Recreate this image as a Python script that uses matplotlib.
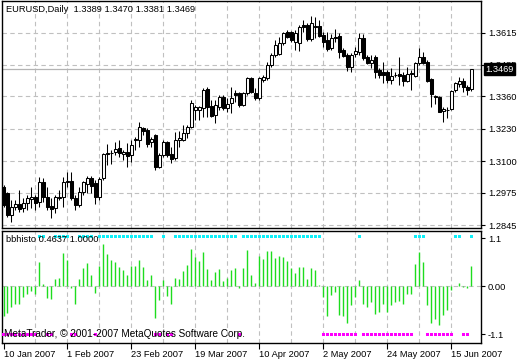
import numpy as np
import matplotlib
matplotlib.use("Agg")
import matplotlib.pyplot as plt
from matplotlib import font_manager as fm

# ---------------- data ----------------
opens = [1.2997,1.2973,1.2885,1.2917,1.2929,1.2913,1.2933,1.2949,1.2957,1.2937,
         1.3017,1.2957,1.2921,1.2913,1.2953,1.2957,1.3017,1.3021,1.2953,1.2925,
         1.2977,1.3009,1.3033,1.3013,1.2957,1.3033,1.3133,1.3133,1.3137,1.3153,
         1.3129,1.3137,1.3125,1.3187,1.3185,1.3233,1.3225,1.3177,1.3205,1.3077,
         1.3125,1.3177,1.3129,1.3113,1.3185,1.3185,1.3213,1.3237,1.3305,1.3305,
         1.3313,1.3389,1.3321,1.3285,1.3317,1.3357,1.3313,1.3333,1.3373,1.3373,
         1.3325,1.3373,1.3433,1.3373,1.3353,1.3425,1.3433,1.3485,1.3525,1.3529,
         1.3573,1.3617,1.3617,1.3577,1.3573,1.3645,1.3645,1.3589,1.3641,1.3641,
         1.3605,1.3585,1.3553,1.3597,1.3601,1.3545,1.3525,1.3477,1.3529,1.3537,
         1.3593,1.3517,1.3493,1.3517,1.3465,1.3457,1.3457,1.3425,1.3445,1.3449,
         1.3445,1.3421,1.3453,1.3441,1.3493,1.3517,1.3497,1.3429,1.3361,1.3357,
         1.3301,1.3305,1.3309,1.3385,1.3409,1.3421,1.3397,1.3389]
highs = [1.3005,1.2977,1.2945,1.2945,1.2985,1.2953,1.2965,1.2997,1.2965,1.3037,
         1.3033,1.2997,1.2953,1.2965,1.2985,1.3037,1.3057,1.3057,1.2965,1.2997,
         1.3021,1.3041,1.3041,1.3025,1.3037,1.3133,1.3169,1.3145,1.3177,1.3185,
         1.3145,1.3173,1.3185,1.3197,1.3257,1.3237,1.3233,1.3197,1.3209,1.3133,
         1.3185,1.3181,1.3157,1.3217,1.3221,1.3245,1.3245,1.3345,1.3325,1.3321,
         1.3393,1.3397,1.3345,1.3345,1.3365,1.3365,1.3353,1.3397,1.3385,1.3377,
         1.3377,1.3437,1.3437,1.3393,1.3437,1.3445,1.3497,1.3533,1.3585,1.3597,
         1.3617,1.3625,1.3621,1.3625,1.3645,1.3665,1.3653,1.3681,1.3677,1.3665,
         1.3617,1.3617,1.3609,1.3629,1.3613,1.3553,1.3533,1.3533,1.3557,1.3613,
         1.3609,1.3525,1.3525,1.3525,1.3473,1.3497,1.3465,1.3473,1.3457,1.3517,
         1.3457,1.3477,1.3465,1.3497,1.3553,1.3537,1.3505,1.3433,1.3365,1.3361,
         1.3317,1.3317,1.3385,1.3417,1.3437,1.3433,1.3405,1.3470]
lows = [1.2917,1.2877,1.2857,1.2905,1.2897,1.2897,1.2905,1.2913,1.2905,1.2917,
        1.2937,1.2905,1.2873,1.2893,1.2945,1.2917,1.2997,1.2945,1.2905,1.2917,
        1.2965,1.2973,1.2973,1.2929,1.2945,1.3025,1.3085,1.3089,1.3125,1.3117,
        1.3105,1.3077,1.3097,1.3145,1.3157,1.3205,1.3157,1.3157,1.3065,1.3073,
        1.3117,1.3117,1.3093,1.3105,1.3157,1.3181,1.3193,1.3233,1.3265,1.3265,
        1.3277,1.3277,1.3277,1.3253,1.3305,1.3305,1.3297,1.3293,1.3337,1.3317,
        1.3321,1.3365,1.3373,1.3345,1.3345,1.3417,1.3425,1.3477,1.3517,1.3525,
        1.3565,1.3593,1.3577,1.3545,1.3541,1.3617,1.3581,1.3581,1.3593,1.3597,
        1.3557,1.3541,1.3545,1.3577,1.3513,1.3517,1.3461,1.3457,1.3517,1.3525,
        1.3505,1.3489,1.3473,1.3433,1.3433,1.3413,1.3413,1.3409,1.3437,1.3405,
        1.3401,1.3417,1.3385,1.3437,1.3485,1.3489,1.3417,1.3317,1.3329,1.3297,
        1.3257,1.3273,1.3305,1.3377,1.3397,1.3377,1.3365,1.3381]
closes = [1.2925,1.2885,1.2917,1.2929,1.2909,1.2933,1.2953,1.2957,1.2933,1.3017,
          1.2957,1.2917,1.2909,1.2957,1.2957,1.3017,1.3021,1.2953,1.2925,1.2977,
          1.3017,1.3033,1.3001,1.2957,1.3029,1.3129,1.3131,1.3135,1.3149,1.3133,
          1.3137,1.3121,1.3165,1.3189,1.3237,1.3221,1.3169,1.3189,1.3077,1.3125,
          1.3177,1.3125,1.3109,1.3185,1.3193,1.3213,1.3237,1.3333,1.3317,1.3317,
          1.3385,1.3317,1.3281,1.3325,1.3357,1.3313,1.3329,1.3353,1.3365,1.3325,
          1.3373,1.3433,1.3377,1.3353,1.3433,1.3437,1.3485,1.3525,1.3565,1.3573,
          1.3613,1.3597,1.3585,1.3613,1.3637,1.3637,1.3589,1.3653,1.3637,1.3601,
          1.3577,1.3549,1.3593,1.3593,1.3537,1.3521,1.3477,1.3525,1.3541,1.3593,
          1.3513,1.3493,1.3505,1.3457,1.3445,1.3445,1.3425,1.3441,1.3444,1.3441,
          1.3421,1.3449,1.3449,1.3493,1.3517,1.3493,1.3421,1.3369,1.3357,1.3297,
          1.3309,1.3304,1.3381,1.3413,1.3421,1.3397,1.3385,1.3469]
hist = [-0.69,-0.62,-0.48,-0.40,-0.40,-0.25,-0.17,-0.11,-0.17,0.56,
        0.05,-0.26,-0.30,0.16,0.20,0.76,0.60,-0.05,-0.40,0.17,
        0.42,0.53,0.26,-0.15,0.46,0.97,0.74,0.60,0.56,0.45,
        0.38,0.26,0.46,0.46,0.60,0.45,0.14,0.26,-0.73,-0.31,
        0.14,-0.23,-0.40,0.19,0.17,0.36,0.48,0.86,0.67,0.58,
        0.78,0.39,0.14,0.33,0.40,0.13,0.20,0.37,0.41,-0.05,
        0.41,0.84,0.26,0.07,0.69,0.63,0.80,0.80,0.65,0.70,
        0.67,0.57,0.41,0.30,0.45,0.44,0.17,0.43,0.37,0.03,
        -0.24,-0.69,-0.20,-0.12,-0.65,-0.67,-0.85,-0.42,-0.24,0.15,
        -0.40,-0.48,-0.36,-0.63,-0.58,-0.40,-0.59,-0.43,-0.35,-0.34,
        -0.40,-0.17,-0.17,0.51,0.79,0.55,-0.42,-0.83,-0.75,-0.88,
        -0.65,-0.55,-0.08,0.01,0.07,-0.01,-0.03,0.4637]
up_level = 1.15
down_level = -1.1
date_labels = ["10 Jan 2007", "1 Feb 2007", "23 Feb 2007", "19 Mar 2007",
               "10 Apr 2007", "2 May 2007", "24 May 2007", "15 Jun 2007"]
date_step = 16
price_ticks = [1.2845, 1.2975, 1.3100, 1.3230, 1.3360, 1.3485, 1.3615]
ind_ticks = [1.1, 0.0, -1.1]
ind_tick_labels = ["1.1", "0.00", "-1.1"]
symbol = "EURUSD,Daily"
ind_name = "bbhisto"
ind_second = 1.0000
copyright_text = "MetaTrader, \u00a9 2001-2007 MetaQuotes Software Corp."

# ---------------- fonts ----------------
_names = {f.name for f in fm.fontManager.ttflist}
if "Liberation Sans Narrow" in _names:
    FONT, FS = "Liberation Sans Narrow", 7.6
else:
    FONT, FS = "Liberation Sans", 6.7
plt.rcParams["font.family"] = [FONT, "DejaVu Sans"]

W, H = 520, 360
fig = plt.figure(figsize=(W / 100, H / 100), dpi=100)
fig.patch.set_facecolor("white")

def px_axes(x0, y0, x1, y1):
    return fig.add_axes([x0 / W, 1 - y1 / H, (x1 - x0) / W, (y1 - y0) / H])

ax1 = px_axes(2.0, 1, 481.0, 228)
ax2 = px_axes(2.0, 231, 481.0, 342.5)

n = len(closes)
x = np.arange(n)
o = np.array(opens); h = np.array(highs); l = np.array(lows); c = np.array(closes)
hv = np.array(hist)

GRID = "#C0C0C0"
DASH = (0, (4, 3))
xlim = (-0.375, 119.375)

# ---------------- price panel ----------------
ax1.set_xlim(*xlim)
ax1.set_ylim(1.2833, 1.3741)
for p in price_ticks:
    ax1.axhline(p, color=GRID, lw=0.8, linestyle=DASH, zorder=0)
for k in range(8, n + 2, 8):
    ax1.axvline(k, color=GRID, lw=0.8, linestyle=DASH, zorder=0)
    ax2.axvline(k, color=GRID, lw=0.8, linestyle=DASH, zorder=0)
ax1.axhline(c[-1], color="#B4B4B4", lw=0.9, zorder=1)

ax1.vlines(x, l, h, color="black", lw=0.75, zorder=2)
body_lo = np.minimum(o, c)
body_h = np.maximum(np.abs(c - o), 0.00001)
face = ["white" if cc >= oo else "black" for oo, cc in zip(o, c)]
ax1.bar(x, body_h, bottom=body_lo, width=0.55, color=face, edgecolor="black",
        linewidth=0.75, zorder=3)

ax1.yaxis.tick_right()
ax1.set_yticks(price_ticks)
ax1.set_yticklabels([f"{p:.4f}" for p in price_ticks])
ax1.set_xticks([])
ax1.tick_params(axis="y", direction="out", length=3, width=0.8, pad=2,
                labelsize=FS, colors="black")
ax1.annotate(f"{c[-1]:.4f}", xy=(1, c[-1]), xycoords=("axes fraction", "data"),
             xytext=(3, 0), textcoords="offset points", ha="left", va="center",
             fontsize=FS, color="white", zorder=10, annotation_clip=False,
             bbox=dict(boxstyle="square,pad=0.12", fc="black", ec="black"))

# ---------------- indicator panel ----------------
ax2.set_xlim(*xlim)
ax2.set_ylim(-1.288, 1.267)
ax2.axhline(0, color=GRID, lw=0.8, linestyle=DASH, zorder=0)
ax2.vlines(x, 0, hv, color="#1EDC1E", lw=1.0, zorder=2)
pos = hv > 0
neg = hv < 0
DOT_H = 0.069   # ~3 px tall squares
ax2.bar(x[pos], DOT_H, bottom=up_level - DOT_H / 2, width=0.75,
        color="#10F0F8", linewidth=0, zorder=3)
ax2.bar(x[neg], DOT_H, bottom=down_level - DOT_H / 2, width=0.75,
        color="#FF00FF", linewidth=0, zorder=3)
ax2.yaxis.tick_right()
ax2.set_yticks(ind_ticks)
ax2.set_yticklabels(ind_tick_labels)
ax2.tick_params(axis="y", direction="out", length=3, width=0.8, pad=2,
                labelsize=FS, colors="black")
ax2.set_xticks([i * date_step for i in range(len(date_labels))])
ax2.set_xticklabels(date_labels, ha="left")
ax2.tick_params(axis="x", direction="out", length=4, width=0.8, pad=1.5,
                labelsize=FS, colors="black")

for ax in (ax1, ax2):
    for s in ax.spines.values():
        s.set_color("black")
        s.set_linewidth(1.0)
    ax.set_facecolor("white")

# ---------------- texts ----------------
def ftext(xp, yp, s, size=FS):
    fig.text(xp / W, 1 - yp / H, s, fontsize=size, color="black", va="center",
             ha="left", zorder=20)

ftext(6, 10, f"{symbol}  {o[-1]:.4f} {h[-1]:.4f} {l[-1]:.4f} {c[-1]:.4f}")
ftext(6, 240, f"{ind_name} {hv[-1]:.4f} {ind_second:.4f}")
ftext(4, 334, copyright_text, size=FS * 1.07)

fig.savefig("out.png", dpi=100, facecolor="white")
